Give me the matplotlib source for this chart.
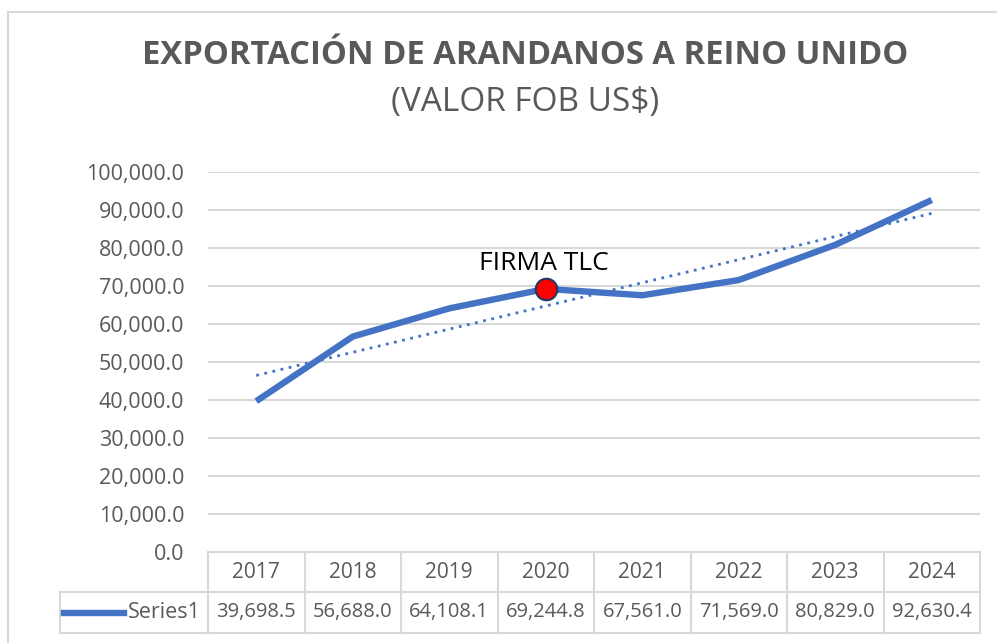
import numpy as np
import matplotlib
matplotlib.use("Agg")
import matplotlib.pyplot as plt
from matplotlib.transforms import blended_transform_factory
from matplotlib.lines import Line2D
from matplotlib.patches import Rectangle

# datos
years = ["2017", "2018", "2019", "2020", "2021", "2022", "2023", "2024"]
valores = [39698.5, 56688.0, 64108.1, 69244.8, 67561.0, 71569.0, 80829.0, 92630.4]
serie = "Series1"
titulo = "EXPORTACIÓN DE ARANDANOS A REINO UNIDO"
subtitulo = "(VALOR FOB US$)"
anotacion = "FIRMA TLC"
idx_tlc = 3
yticks = np.arange(0, 100001, 10000)

W, H = 997, 643
azul = "#4472C4"
gris = "#D9D9D9"
texto = "#595959"
fuente = "Open Sans"

fig = plt.figure(figsize=(W / 100, H / 100), dpi=100)

def fx(px):
    return px / W

def fy(py):
    return 1 - py / H

# borde del grafico
fig.patches.append(Rectangle((fx(8), fy(1000)), 2, fy(12) - fy(1000), transform=fig.transFigure,
                             fill=False, edgecolor=gris, lw=1.5))

ax = fig.add_axes([fx(208), fy(552), fx(980) - fx(208), fy(172) - fy(552)])
x = np.arange(len(years))
ax.plot(x, valores, color=azul, lw=4.6, solid_capstyle="butt", zorder=3)

# linea de tendencia (lineal)
m, b = np.polyfit(x, valores, 1)
ax.plot(x, m * x + b, color=azul, lw=2, linestyle=(0, (1, 2)), zorder=2)

ax.plot(x[idx_tlc], valores[idx_tlc], "o", markersize=15.5, markerfacecolor="#FF0000",
        markeredgecolor="#1F3864", markeredgewidth=1.5, zorder=4)
ax.annotate(anotacion, (x[idx_tlc], valores[idx_tlc]), xytext=(-1, 9), textcoords="offset points",
            ha="center", va="bottom", fontsize=19, family=fuente, color="black", zorder=5)

ax.set_xlim(-0.5, len(years) - 0.5)
ax.set_ylim(0, 100000)
ax.set_yticks(yticks)
ax.set_yticklabels([f"{v:,.1f}" for v in yticks], fontsize=15.5, color=texto, family=fuente)
ax.tick_params(axis="y", length=0, pad=17)
ax.set_xticks([])
ax.grid(axis="y", color=gris, lw=1.5)
for s in ax.spines.values():
    s.set_visible(False)
ax.set_axisbelow(True)

# tabla de datos
tr = blended_transform_factory(ax.transData, fig.transFigure)
y0, y1, y2 = fy(552), fy(592), fy(633)
ax.add_line(Line2D([-0.5, len(years) - 0.5], [y0, y0], transform=tr, color=gris, lw=1.5, clip_on=False))
for yy in (y1, y2):
    ax.add_line(Line2D([-0.5, len(years) - 0.5], [yy, yy], transform=tr, color=gris, lw=1.5, clip_on=False))
    fig.add_artist(Line2D([fx(60), fx(208)], [yy, yy], color=gris, lw=1.5))
fig.add_artist(Line2D([fx(60), fx(60)], [y1, y2], color=gris, lw=1.5))
for xi in np.arange(len(years) + 1) - 0.5:
    ax.add_line(Line2D([xi, xi], [y0, y2], transform=tr, color=gris, lw=1.5, clip_on=False))
for xi, yr, v in zip(x, years, valores):
    ax.text(xi, (y0 + y1) / 2, yr, transform=tr, ha="center", va="center", fontsize=15,
            color=texto, family=fuente)
    ax.text(xi, (y1 + y2) / 2, f"{v:,.1f}", transform=tr, ha="center", va="center", fontsize=14.5,
            color=texto, family=fuente)
ym = (y1 + y2) / 2
fig.add_artist(Line2D([fx(64), fx(124)], [ym, ym], color=azul, lw=4.6))
fig.text(fx(128), ym, serie, ha="left", va="center", fontsize=15.5, color=texto, family=fuente)

# titulos
fig.text(fx(525), fy(55), titulo, ha="center", va="center", fontsize=23.6, fontweight="bold",
         color=texto, family=fuente)
fig.text(fx(525), fy(103), subtitulo, ha="center", va="center", fontsize=24, color=texto, family=fuente)

fig.savefig("out.png", dpi=100)
